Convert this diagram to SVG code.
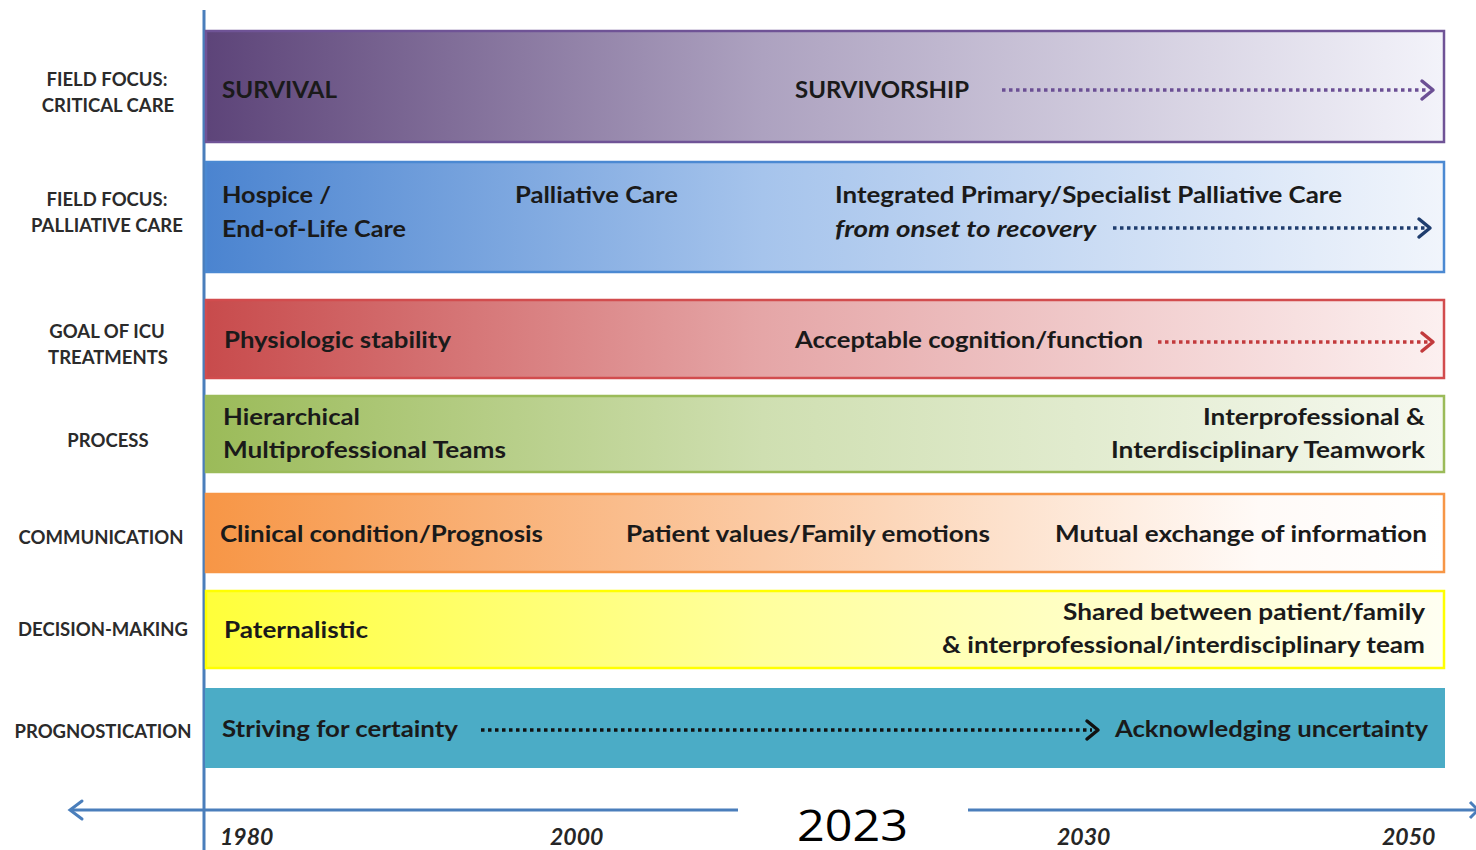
<svg xmlns="http://www.w3.org/2000/svg" width="1476" height="850" viewBox="0 0 1476 850">
<defs>
<linearGradient id="gPurple" x1="0" y1="0" x2="1" y2="0">
<stop offset="0" stop-color="#5d4479"/><stop offset="0.45" stop-color="#ada2c0"/><stop offset="1" stop-color="#f3f3fa"/>
</linearGradient>
<linearGradient id="gBlue" x1="0" y1="0" x2="1" y2="0">
<stop offset="0" stop-color="#4b84d0"/><stop offset="0.45" stop-color="#a6c4ec"/><stop offset="1" stop-color="#f1f5fc"/>
</linearGradient>
<linearGradient id="gRed" x1="0" y1="0" x2="1" y2="0">
<stop offset="0" stop-color="#c84b4c"/><stop offset="0.45" stop-color="#e5a6a7"/><stop offset="1" stop-color="#fcf0f0"/>
</linearGradient>
<linearGradient id="gGreen" x1="0" y1="0" x2="1" y2="0">
<stop offset="0" stop-color="#9bbb59"/><stop offset="0.45" stop-color="#cfdfb1"/><stop offset="1" stop-color="#f6f9f0"/>
</linearGradient>
<linearGradient id="gOrange" x1="0" y1="0" x2="1" y2="0">
<stop offset="0" stop-color="#f79646"/><stop offset="0.45" stop-color="#fbcaa4"/><stop offset="0.85" stop-color="#fffaf7"/><stop offset="1" stop-color="#ffffff"/>
</linearGradient>
<linearGradient id="gYellow" x1="0" y1="0" x2="1" y2="0">
<stop offset="0" stop-color="#ffff3a"/><stop offset="0.45" stop-color="#ffff9e"/><stop offset="1" stop-color="#fffff2"/>
</linearGradient>
<style>
.lbl{font-family:"Lato","Liberation Sans",sans-serif;font-weight:700;font-size:18.5px;fill:#2b2b2b;text-anchor:middle}
.t{font-family:"Lato","Liberation Sans",sans-serif;font-weight:700;font-size:23px;fill:#1a1a1a}
.ti{font-style:italic}
.r{text-anchor:end}
.yr{font-family:"Lato","Liberation Sans",sans-serif;font-weight:700;font-style:italic;font-size:23px;fill:#262626}
.big{font-family:"Open Sans","Liberation Sans",sans-serif;font-size:44px;fill:#000}
.dot{fill:none;stroke-width:3.5;stroke-dasharray:3.5 3.5}
.head{fill:none;stroke-width:3.5;stroke-linecap:round;stroke-linejoin:round}
.axis{stroke:#4a7ebb;stroke-width:3;fill:none}
</style>
</defs>
<rect width="1476" height="850" fill="#ffffff"/>

<g id="axes">
<line class="axis" x1="204" y1="10" x2="204" y2="850"/>
<line class="axis" x1="70" y1="810" x2="738" y2="810"/>
<path class="axis" d="M82 801 L70 810 L82 819" stroke-linecap="round"/>
<line class="axis" x1="968" y1="810" x2="1476" y2="810"/>
<path class="axis" d="M1470 802 L1478 810 L1470 818"/>
</g>

<g id="row-critical">
<text class="lbl" x="107" y="86">FIELD FOCUS:</text>
<text class="lbl" x="108" y="112">CRITICAL CARE</text>
<rect x="206" y="31" width="1238" height="111" fill="url(#gPurple)" stroke="#6f5396" stroke-width="2.5"/>
<text class="t" x="222" y="98" textLength="115" lengthAdjust="spacingAndGlyphs">SURVIVAL</text>
<text class="t" x="795" y="98" textLength="174" lengthAdjust="spacingAndGlyphs">SURVIVORSHIP</text>
</g>

<g id="row-palliative">
<text class="lbl" x="107" y="206">FIELD FOCUS:</text>
<text class="lbl" x="107" y="232">PALLIATIVE CARE</text>
<rect x="206" y="162" width="1238" height="110" fill="url(#gBlue)" stroke="#4b89d2" stroke-width="2.5"/>
<text class="t" x="222" y="203" textLength="109" lengthAdjust="spacingAndGlyphs">Hospice /</text>
<text class="t" x="222" y="237" textLength="184" lengthAdjust="spacingAndGlyphs">End-of-Life Care</text>
<text class="t" x="515" y="203" textLength="163" lengthAdjust="spacingAndGlyphs">Palliative Care</text>
<text class="t" x="835" y="203" textLength="507" lengthAdjust="spacingAndGlyphs">Integrated Primary/Specialist Palliative Care</text>
<text class="t ti" x="835" y="237" textLength="261" lengthAdjust="spacingAndGlyphs">from onset to recovery</text>
</g>

<g id="row-goal">
<text class="lbl" x="107" y="338">GOAL OF ICU</text>
<text class="lbl" x="108" y="364">TREATMENTS</text>
<rect x="206" y="300" width="1238" height="78" fill="url(#gRed)" stroke="#d24c4e" stroke-width="2.5"/>
<text class="t" x="224" y="348" textLength="227" lengthAdjust="spacingAndGlyphs">Physiologic stability</text>
<text class="t" x="795" y="348" textLength="348" lengthAdjust="spacingAndGlyphs">Acceptable cognition/function</text>
</g>

<g id="row-process">
<text class="lbl" x="108" y="447">PROCESS</text>
<rect x="206" y="396" width="1238" height="76" fill="url(#gGreen)" stroke="#9bbb59" stroke-width="2.5"/>
<text class="t" x="223" y="425" textLength="137" lengthAdjust="spacingAndGlyphs">Hierarchical</text>
<text class="t" x="223" y="458" textLength="283" lengthAdjust="spacingAndGlyphs">Multiprofessional Teams</text>
<text class="t r" x="1425" y="425" textLength="222" lengthAdjust="spacingAndGlyphs">Interprofessional &amp;</text>
<text class="t r" x="1425" y="458" textLength="314" lengthAdjust="spacingAndGlyphs">Interdisciplinary Teamwork</text>
</g>

<g id="row-communication">
<text class="lbl" x="101" y="544">COMMUNICATION</text>
<rect x="206" y="494" width="1238" height="78" fill="url(#gOrange)" stroke="#f79646" stroke-width="2.5"/>
<text class="t" x="220" y="542" textLength="323" lengthAdjust="spacingAndGlyphs">Clinical condition/Prognosis</text>
<text class="t" x="626" y="542" textLength="364" lengthAdjust="spacingAndGlyphs">Patient values/Family emotions</text>
<text class="t r" x="1427" y="542" textLength="372" lengthAdjust="spacingAndGlyphs">Mutual exchange of information</text>
</g>

<g id="row-decision">
<text class="lbl" x="103" y="636">DECISION-MAKING</text>
<rect x="206" y="591" width="1238" height="77" fill="url(#gYellow)" stroke="#ffff00" stroke-width="2.5"/>
<text class="t" x="224" y="638" textLength="144" lengthAdjust="spacingAndGlyphs">Paternalistic</text>
<text class="t r" x="1425" y="620" textLength="362" lengthAdjust="spacingAndGlyphs">Shared between patient/family</text>
<text class="t r" x="1425" y="653" textLength="483" lengthAdjust="spacingAndGlyphs">&amp; interprofessional/interdisciplinary team</text>
</g>

<g id="row-prognostication">
<text class="lbl" x="103" y="738">PROGNOSTICATION</text>
<rect x="205" y="688" width="1240" height="80" fill="#4bacc6"/>
<text class="t" x="222" y="737" textLength="236" lengthAdjust="spacingAndGlyphs">Striving for certainty</text>
<text class="t" x="1115" y="737" textLength="313" lengthAdjust="spacingAndGlyphs">Acknowledging uncertainty</text>
</g>

<g id="connectors">
<line class="dot" x1="1002" y1="90" x2="1428" y2="90" stroke="#6b4f94"/>
<path class="head" d="M1422 81 L1433 90 L1422 99" stroke="#6b4f94"/>
<line class="dot" x1="1113" y1="228" x2="1425" y2="228" stroke="#1f3d6e"/>
<path class="head" d="M1419 219 L1430 228 L1419 237" stroke="#1f3d6e"/>
<line class="dot" x1="1158" y1="342" x2="1428" y2="342" stroke="#c23a3c"/>
<path class="head" d="M1422 333 L1433 342 L1422 351" stroke="#c23a3c"/>
<line class="dot" x1="481" y1="730" x2="1092" y2="730" stroke="#111111"/>
<path class="head" d="M1087 721 L1098 730 L1087 739" stroke="#111111"/>
</g>

<g id="timeline-labels">
<text class="yr" x="220" y="845">1980</text>
<text class="yr" x="550" y="845">2000</text>
<text class="yr" x="1057" y="845">2030</text>
<text class="yr" x="1382" y="845">2050</text>
<rect x="738" y="795" width="230" height="55" fill="#ffffff"/>
<text class="big" x="797" y="841" textLength="111" lengthAdjust="spacingAndGlyphs">2023</text>
</g>
</svg>
